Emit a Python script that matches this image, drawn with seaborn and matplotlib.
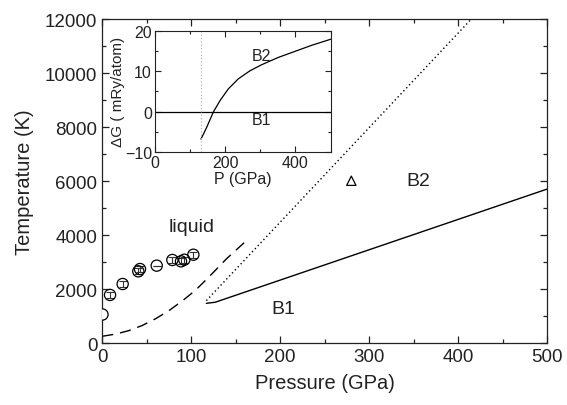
import numpy as np
import pandas as pd
import matplotlib
matplotlib.use("Agg")
import matplotlib.pyplot as plt
import seaborn as sns
from matplotlib.ticker import MultipleLocator

# --- phase diagram data ---
# B1-B2 transition boundary (solid)
b1b2_P = [117, 127, 500]
b1b2_T = [1470, 1510, 5700]

# metastable extension (dotted)
meta_P = [117, 415]
meta_T = [1570, 12000]

# melting curve (dashed)
melt_P = [0, 15, 30, 45, 60, 75, 90, 105, 120, 140, 164]
melt_T = [250, 330, 460, 650, 900, 1200, 1560, 1960, 2450, 3130, 3850]

# experimental melting points with error bars
exp_P = [8.7, 22.9, 40.5, 42.4, 61.2, 78.8, 88.5, 92.2, 102.4]
exp_T = [1780, 2185, 2655, 2740, 2865, 3075, 3025, 3085, 3270]
exp_err = [110, 110, 110, 110, 0, 110, 110, 110, 110]

# ambient-pressure melting point
amb_P = [0]
amb_T = [1070]

# shock point
shock_P = [280]
shock_T = [6010]

# --- inset: free energy difference B2 - B1 ---
dg_P = [131.5, 147.7, 166.6, 185.5, 209, 237.6, 270.7, 304, 351, 398.6, 446, 500]
dg_G = [-6.8, -3.9, -0.1, 2.7, 5.6, 8.1, 10.1, 11.6, 13.4, 14.9, 16.4, 17.9]
dg_ref_P = [0, 500]
dg_ref_G = [0, 0]
dg_trans_P = 131.5

sns.set_theme(style="ticks")
plt.rcParams["font.family"] = ["Liberation Sans", "DejaVu Sans"]
plt.rcParams["text.color"] = "#222222"
plt.rcParams["axes.labelcolor"] = "#222222"
plt.rcParams["xtick.color"] = "#222222"
plt.rcParams["ytick.color"] = "#222222"

fig = plt.figure(figsize=(5.67, 4.06), dpi=100)
ax = fig.add_axes([0.1804, 0.1527, 0.7843, 0.798])

sns.lineplot(x=b1b2_P, y=b1b2_T, ax=ax, color="black", lw=1.0, sort=False)
sns.lineplot(x=meta_P, y=meta_T, ax=ax, color="black", lw=1.0, sort=False,
             linestyle=(0, (1, 2)))
sns.lineplot(x=melt_P, y=melt_T, ax=ax, color="black", lw=1.0, sort=False,
             linestyle=(0, (8, 5)))

ax.errorbar(exp_P, exp_T, yerr=exp_err, fmt="none", ecolor="#333333",
            elinewidth=0.8, capsize=3, capthick=0.8, zorder=3)
sns.scatterplot(x=exp_P, y=exp_T, ax=ax, marker="o", s=65,
                facecolor="none", edgecolor="black", linewidth=0.9, zorder=4)
ax.scatter(amb_P, amb_T, marker="o", s=65, facecolor="white",
           edgecolor="black", linewidth=0.9, zorder=4, clip_on=True)
sns.scatterplot(x=shock_P, y=shock_T, ax=ax, marker="^", s=45,
                facecolor="none", edgecolor="black", linewidth=0.9, zorder=4)

ax.set_xlim(0, 500)
ax.set_ylim(0, 12000)
ax.xaxis.set_major_locator(MultipleLocator(100))
ax.xaxis.set_minor_locator(MultipleLocator(50))
ax.yaxis.set_major_locator(MultipleLocator(2000))
ax.yaxis.set_minor_locator(MultipleLocator(1000))
ax.tick_params(which="both", direction="in", top=True, right=True,
               labelsize=13.5, width=0.9)
ax.tick_params(which="major", length=5)
ax.tick_params(which="minor", length=3)
for s in ax.spines.values():
    s.set_linewidth(0.9)
    s.set_color("#222222")
ax.set_xlabel("Pressure (GPa)", fontsize=14.5, labelpad=6)
ax.set_ylabel("Temperature (K)", fontsize=14.5, labelpad=8)

ax.text(100, 4330, "liquid", fontsize=14, ha="center", va="center")
ax.text(355, 6010, "B2", fontsize=14, ha="center", va="center")
ax.text(204, 1260, "B1", fontsize=14, ha="center", va="center")

# inset
ins = fig.add_axes([0.2728, 0.623, 0.3104, 0.2988])
sns.lineplot(x=dg_ref_P, y=dg_ref_G, ax=ins, color="black", lw=0.9, sort=False)
sns.lineplot(x=dg_P, y=dg_G, ax=ins, color="black", lw=0.9, sort=False)
ins.axvline(dg_trans_P, color="#aaaaaa", lw=0.8, linestyle=(0, (1, 2)))
ins.set_xlim(0, 500)
ins.set_ylim(-10, 20)
ins.xaxis.set_major_locator(MultipleLocator(200))
ins.xaxis.set_minor_locator(MultipleLocator(100))
ins.yaxis.set_major_locator(MultipleLocator(10))
ins.yaxis.set_minor_locator(MultipleLocator(5))
ins.tick_params(which="both", direction="in", top=True, right=True,
                labelsize=11.5, width=0.8, pad=2)
ins.tick_params(which="major", length=4)
ins.tick_params(which="minor", length=2.5)
for s in ins.spines.values():
    s.set_linewidth(0.8)
    s.set_color("#222222")
ins.set_xlabel("P (GPa)", fontsize=11.5, labelpad=1)
ins.set_ylabel("ΔG ( mRy/atom)", fontsize=11, labelpad=0)
ins.text(304, 13.8, "B2", fontsize=11.5, ha="center", va="center")
ins.text(304, -2.0, "B1", fontsize=11.5, ha="center", va="center")

fig.savefig("out.png", dpi=100)
